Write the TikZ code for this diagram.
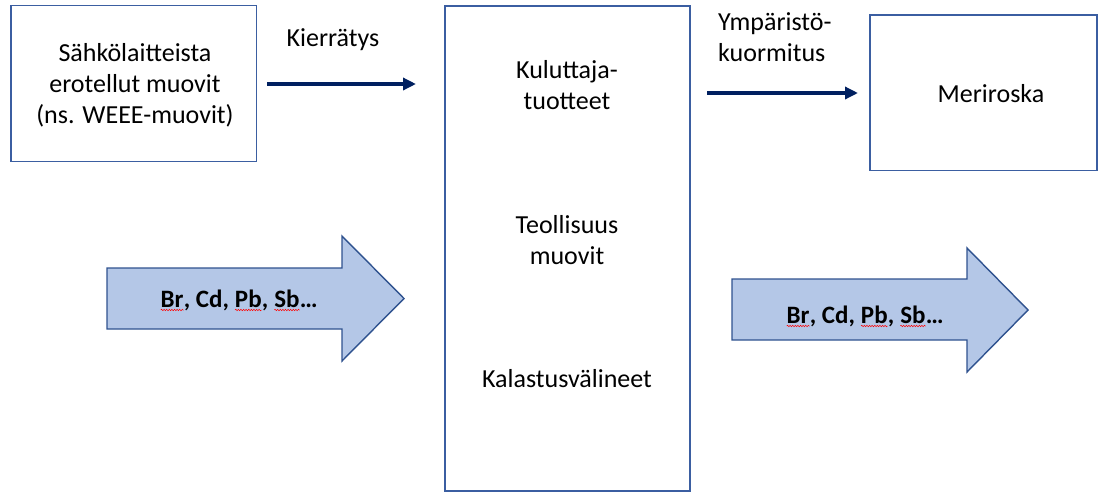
\documentclass[tikz,border=0pt]{standalone}
\usepackage{fontspec}
\setmainfont{Carlito}
\usetikzlibrary{decorations.pathmorphing,arrows.meta}
\definecolor{boxblue}{HTML}{3B5EA1}
\definecolor{navy}{HTML}{002060}
\definecolor{arrowfill}{HTML}{B4C7E7}
\definecolor{arrowedge}{HTML}{2F528F}
\newcommand\sq[1]{\tikz[baseline=(w.base)]{\node[inner sep=0pt,outer sep=0pt](w){#1};\draw[red,line width=0.5pt,decorate,decoration={snake,amplitude=0.7pt,segment length=2.6pt}]([yshift=-3pt]w.base west)--([yshift=-3pt]w.base east);}}
\begin{document}
\begin{tikzpicture}[x=1pt,y=-1pt,
  txt/.style={font=\fontsize{26}{31}\selectfont, inner sep=0pt, align=center},
  boxline/.style={draw=boxblue, line width=1.4pt},
  flow/.style={draw=navy, line width=3.5pt, -{Triangle[length=13pt,width=12pt]}},
  bigarrow/.style={fill=arrowfill, draw=arrowedge, line width=1.4pt, line join=miter},
  arrowtxt/.style={font=\fontsize{25}{30}\selectfont\bfseries, inner sep=0pt, anchor=base}]
\useasboundingbox (0,0) rectangle (1099,493);
% boxes
\draw[boxline] (11,5.5) rectangle (256.5,161.5);
\draw[boxline] (445,6) rectangle (690,491);
\draw[boxline] (870,15) rectangle (1097,170.5);
% texts
\node[txt] (src) at (135,85) {Sähkölaitteista\\erotellut muovit\\(ns. WEEE-muovit)};
\node[txt, anchor=base] (kier) at (333,46) {Kierrätys};
\node[txt] (kul) at (567,85) {Kuluttaja-\\tuotteet};
\node[txt] (teo) at (567,240) {Teollisuus\\muovit};
\node[txt, anchor=base] (kal) at (567,387) {Kalastusvälineet};
\node[txt, align=left, anchor=north west] (ymp) at (718,12) {Ympäristö-\\kuormitus};
\node[txt, anchor=base] (mer) at (991,102) {Meriroska};
% thin arrows
\coordinate (a1s) at (267,84);
\coordinate (a1e) at (416,84);
\coordinate (a2s) at (707,93);
\coordinate (a2e) at (858,93);
\draw[flow] (a1s) -- (a1e);
\draw[flow] (a2s) -- (a2e);
% big arrows
\path[bigarrow] (107,268) -- (342,268) -- (342,236) -- (404,298.5) -- (342,361) -- (342,329) -- (107,329) -- cycle;
\node[arrowtxt] (el1) at (239,307) {\sq{Br}, Cd, \sq{Pb}, \sq{Sb}…};
\path[bigarrow] (732,279) -- (967,279) -- (967,248) -- (1028,310) -- (967,372) -- (967,340) -- (732,340) -- cycle;
\node[arrowtxt] (el2) at (865,323) {\sq{Br}, Cd, \sq{Pb}, \sq{Sb}…};
\end{tikzpicture}
\end{document}
